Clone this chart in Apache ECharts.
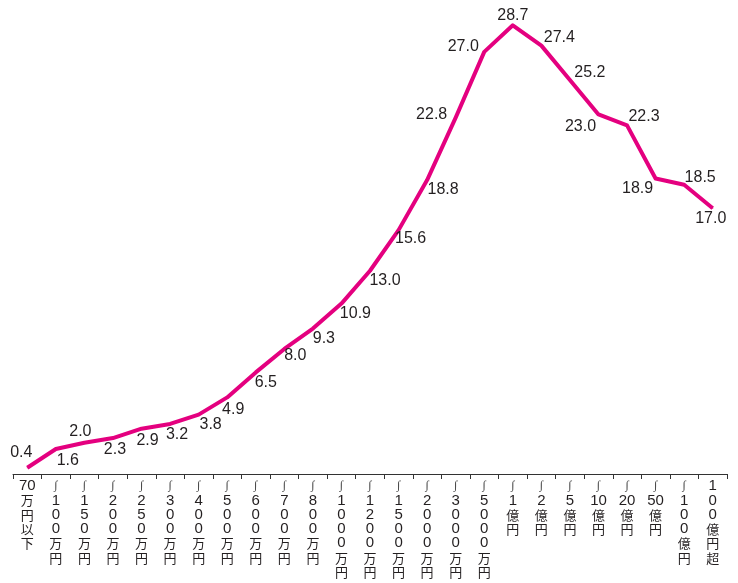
<!DOCTYPE html>
<html>
<head>
<meta charset="utf-8">
<script src="https://cdn.jsdelivr.net/npm/echarts@6/dist/echarts.min.js"></script>
<style>
  html, body { margin:0; padding:0; background:#fff; }
  #chart { width:738px; height:583px; }
</style>
</head>
<body>
<div id="chart"></div>
<script>
const categories = ['70万円以下','〜100万円','〜150万円','〜200万円','〜250万円','〜300万円','〜400万円','〜500万円',
  '〜600万円','〜700万円','〜800万円','〜1000万円','〜1200万円','〜1500万円','〜2000万円','〜3000万円','〜5000万円',
  '〜1億円','〜2億円','〜5億円','〜10億円','〜20億円','〜50億円','〜100億円','100億円超'];
const values = [0.4, 1.6, 2.0, 2.3, 2.9, 3.2, 3.8, 4.9, 6.5, 8.0, 9.3, 10.9, 13.0, 15.6, 18.8, 22.8, 27.0,
  28.7, 27.4, 25.2, 23.0, 22.3, 18.9, 18.5, 17.0];

// where each value label sits relative to its point (px)
const labelShift = [[-6,-15],[12,12],[-4,-11],[2,12],[6,12],[7,11],[12,10],[6,12],[10,10],[11,7],[11,10],[14,10],
  [15,10],[12,8],[16,10],[-24,-3],[-21,-5],[0,-10],[18,-8],[20,-7],[-18,12],[17,-9],[-18,10],[16,-7],[-2,10]];

// vertical label: wave mark, digits one per row (2-digit numbers stay together), kanji one per row
function vertical(name) {
  let rows = [];
  let s = name;
  if (s.startsWith('〜')) { rows.push('{w|∫}'); s = s.slice(1); }
  const m = s.match(/^(\d+)(.*)$/);
  if (m) {
    if (m[1].length <= 2) rows.push(m[1]); else rows.push(...m[1].split(''));
    s = m[2];
  }
  rows.push(...s.split('').map(c => '{k|' + c + '}'));
  return rows.join('\n');
}

const chart = echarts.init(document.getElementById('chart'));
chart.setOption({
  animation: false,
  grid: {left: 13, right: 11, top: 5, bottom: 109},
  xAxis: {
    type: 'category',
    data: categories,
    boundaryGap: true,
    axisLine: {lineStyle: {color: '#333', width: 1}},
    axisTick: {show: true, length: 5, lineStyle: {color: '#333'}},
    axisLabel: {
      interval: 0, margin: 5,
      color: '#231f20', fontSize: 15, lineHeight: 14.3,
      fontFamily: '"Liberation Sans", sans-serif',
      formatter: vertical,
      rich: {
        w: {fontSize: 12, lineHeight: 14.3, color: '#444', fontFamily: '"Liberation Serif"'},
        k: {fontSize: 13, lineHeight: 14.3, color: '#231f20', fontFamily: '"Noto Sans CJK JP"'}
      }
    }
  },
  yAxis: {type: 'value', min: 0, max: 30, show: false},
  series: [{
    type: 'line',
    data: values.map((v, i) => ({
      value: v,
      label: {offset: labelShift[i]}
    })),
    symbol: 'circle', symbolSize: 1, showSymbol: true,
    lineStyle: {color: '#e4007f', width: 4, join: 'round'},
    itemStyle: {color: '#e4007f'},
    label: {
      show: true, position: 'inside',
      formatter: p => p.value.toFixed(1),
      fontSize: 16, color: '#231f20',
      fontFamily: '"Liberation Sans", Arial, sans-serif'
    }
  }]
});
</script>
</body>
</html>
